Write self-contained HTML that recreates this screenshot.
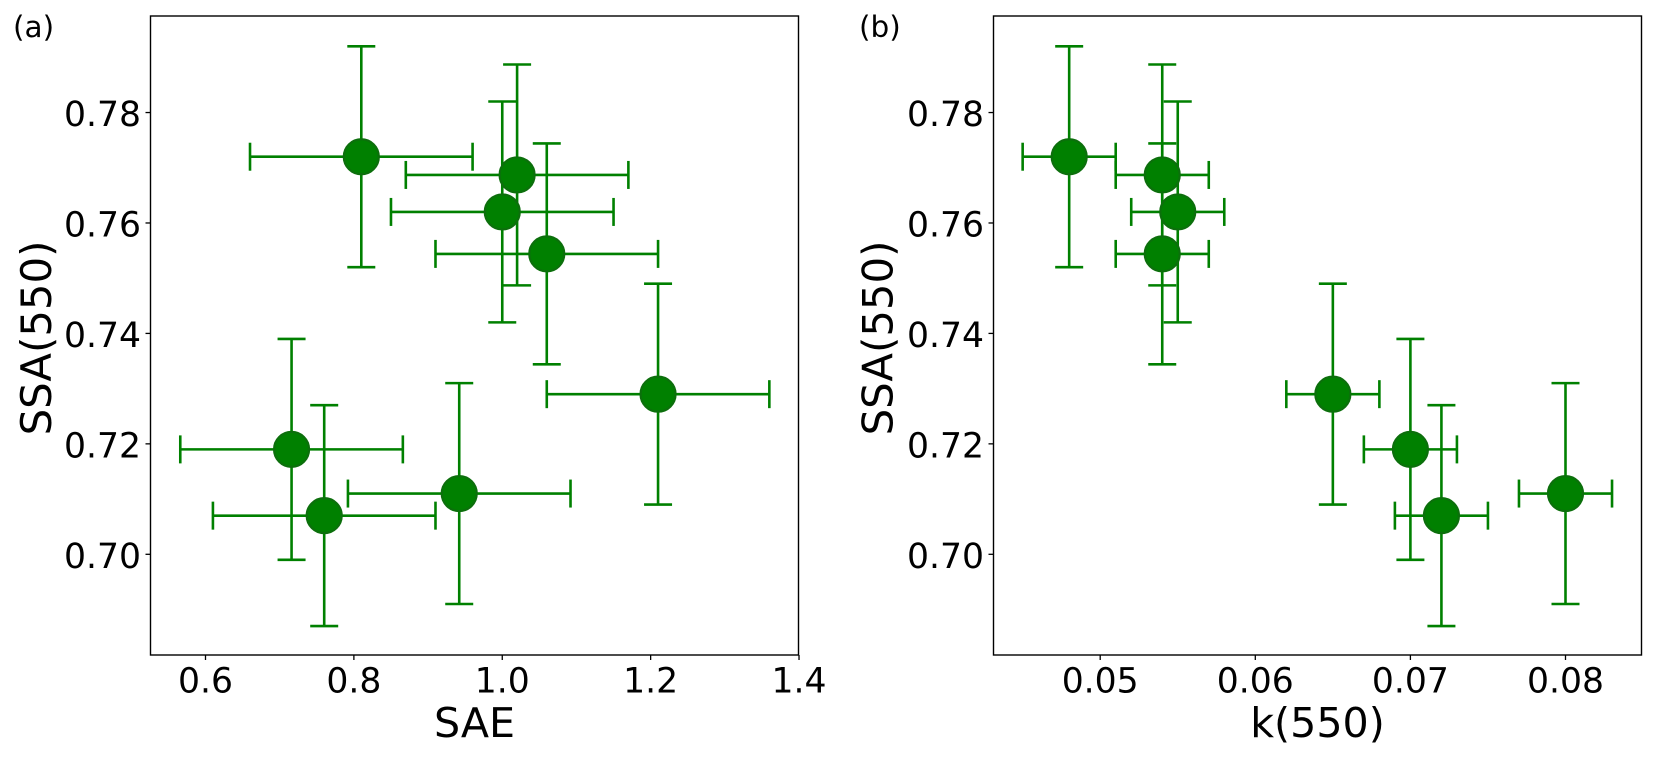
<!DOCTYPE html>
<html>
<head>
<meta charset="utf-8">
<style>
html,body{margin:0;padding:0;background:#fff;width:1660px;height:760px;overflow:hidden}
svg{display:block}
text{font-family:"DejaVu Sans",sans-serif;fill:#000}
</style>
</head>
<body>
<svg id="chart" xmlns="http://www.w3.org/2000/svg" width="1660" height="760" viewBox="0 0 1660 760">
<rect width="1660" height="760" fill="#fff"/>
</svg>
<script>
const ssaValues = [0.772, 0.7687, 0.762, 0.7544, 0.729, 0.719, 0.707, 0.711];
const saeValues = [0.81, 1.02, 1.0, 1.06, 1.21, 0.716, 0.76, 0.942];
const kValues = [0.048, 0.054, 0.055, 0.054, 0.065, 0.07, 0.072, 0.08];
const ssaError = [0.02, 0.02, 0.02, 0.02, 0.02, 0.02, 0.02, 0.02];
const saeError = [0.15, 0.15, 0.15, 0.15, 0.15, 0.15, 0.15, 0.15];
const kError = [0.003, 0.003, 0.003, 0.003, 0.003, 0.003, 0.003, 0.003];
const ssaTicks = [0.70, 0.72, 0.74, 0.76, 0.78];
const ssaTickLabels = ["0.70", "0.72", "0.74", "0.76", "0.78"];
const saeTicks = [0.6, 0.8, 1.0, 1.2, 1.4];
const saeTickLabels = ["0.6", "0.8", "1.0", "1.2", "1.4"];
const kTicks = [0.05, 0.06, 0.07, 0.08];
const kTickLabels = ["0.05", "0.06", "0.07", "0.08"];

const svg = document.getElementById('chart');
const NS = 'http://www.w3.org/2000/svg';
const LINE_GREEN = '#008000';

function yScale(v) { return 554.3 - (v - 0.70) * 5522; }
function xScaleA(v) { return 205.5 + (v - 0.6) * 741.9; }
function xScaleB(v) { return 1255.3 + (v - 0.06) * 15510; }

function node(tag, attrs, parent) {
  const el = document.createElementNS(NS, tag);
  for (const k in attrs) el.setAttribute(k, attrs[k]);
  parent.appendChild(el);
  return el;
}
function seg(x1, y1, x2, y2, stroke, w, parent) {
  return node('line', {x1: x1, y1: y1, x2: x2, y2: y2, stroke: stroke, 'stroke-width': w}, parent);
}

function drawPanel(cfg) {
  const g = node('g', {}, svg);
  
  

  const bars = node('g', {}, g);
  
  
  const capH = 14, lw = 2.6;
  cfg.xs.forEach(function (xv, i) {
    const cx = cfg.xScale(xv), cy = yScale(ssaValues[i]);
    const x0 = cfg.xScale(xv - cfg.xe[i]), x1 = cfg.xScale(xv + cfg.xe[i]);
    const y0 = yScale(ssaValues[i] - ssaError[i]), y1 = yScale(ssaValues[i] + ssaError[i]);
    const eb = node('g', {}, bars);
    
    
    seg(x0, cy, x1, cy, LINE_GREEN, lw, eb);
    seg(cx, y0, cx, y1, LINE_GREEN, lw, eb);
    seg(x0, cy - capH, x0, cy + capH, LINE_GREEN, lw, eb);
    seg(x1, cy - capH, x1, cy + capH, LINE_GREEN, lw, eb);
    seg(cx - capH, y0, cx + capH, y0, LINE_GREEN, lw, eb);
    seg(cx - capH, y1, cx + capH, y1, LINE_GREEN, lw, eb);
  });

  cfg.xs.forEach(function (xv, i) {
    const c = node('circle', {cx: cfg.xScale(xv), cy: yScale(ssaValues[i]), r: 17.5, fill: '#008000', stroke: '#0c6f0c', 'stroke-width': 2.2}, g);
    
    
  });

  const frame = node('rect', {x: cfg.left, y: 16, width: cfg.right - cfg.left, height: 639, fill: 'none', stroke: '#000', 'stroke-width': 1.4}, g);
  
  

  ssaTicks.forEach(function (t, i) {
    const y = yScale(t);
    const tick = seg(cfg.left - 5, y, cfg.left, y, '#000', 1.3, g);
    
    
    const lab = node('text', {x: cfg.left - 9.5, y: y + 13.7, 'font-size': 34.6, 'text-anchor': 'end'}, g);
    lab.textContent = ssaTickLabels[i];
    
    
  });

  cfg.ticks.forEach(function (t, i) {
    const x = cfg.xScale(t);
    const tick = seg(x, 655, x, 660, '#000', 1.3, g);
    
    
    const lab = node('text', {x: x, y: 692.3, 'font-size': 34.6, 'text-anchor': 'middle'}, g);
    lab.textContent = cfg.tickLabels[i];
    
    
  });

  const xt = node('text', {x: (cfg.left + cfg.right) / 2, y: 737, 'font-size': 41.2, 'text-anchor': 'middle'}, g);
  xt.textContent = cfg.xTitle;
  
  

  const yt = node('text', {x: 0, y: 0, 'font-size': 41.8, 'text-anchor': 'middle', transform: 'translate(' + cfg.yTitleX + ',338) rotate(-90)'}, g);
  yt.textContent = 'SSA(550)';
  
  

  const tag = node('text', {x: cfg.tagX, y: 37, 'font-size': 29.5}, g);
  tag.textContent = cfg.tag;
  
  
}

drawPanel({key: 'sae', left: 150.5, right: 798.5, xScale: xScaleA, xs: saeValues, xe: saeError, ticks: saeTicks, tickLabels: saeTickLabels, xTitle: 'SAE', yTitleX: 51, tag: '(a)', tagX: 13});
drawPanel({key: 'k', left: 993.5, right: 1641.5, xScale: xScaleB, xs: kValues, xe: kError, ticks: kTicks, tickLabels: kTickLabels, xTitle: 'k(550)', yTitleX: 892.5, tag: '(b)', tagX: 859});
</script>
</body>
</html>
